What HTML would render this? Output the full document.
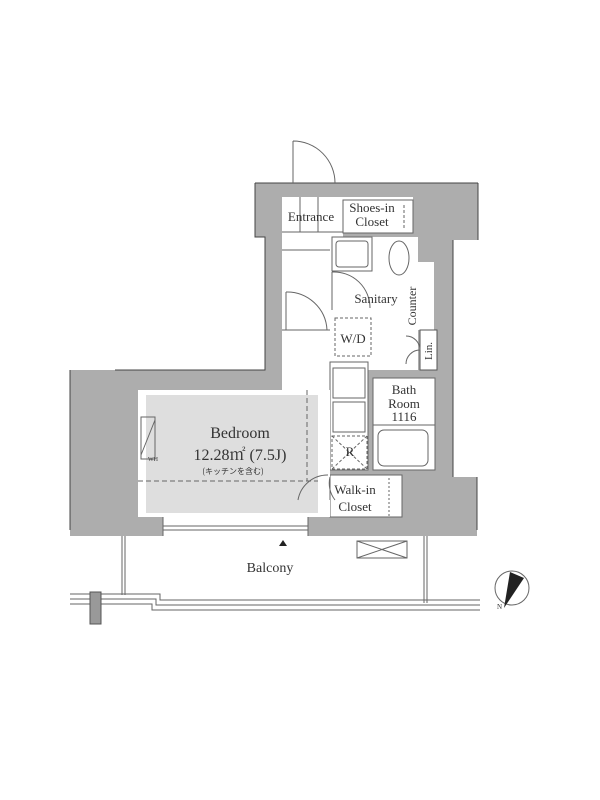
<!DOCTYPE html>
<html><head><meta charset="utf-8"><style>
html,body{margin:0;padding:0;background:#fff;width:600px;height:800px;overflow:hidden}
text{font-family:"Liberation Serif","Noto Serif CJK SC",serif;fill:#333}
</style></head><body>
<svg width="600" height="800" viewBox="0 0 600 800" xmlns="http://www.w3.org/2000/svg">
<!-- walls -->
<path d="M255,183 L478,183 L478,240 L453,240 L453,477 L477,477 L477,536 L70,536 L70,370 L265,370 L265,237 L255,237 Z" fill="#adadad"/>
<path d="M255,183 L478,183 M478,183 L478,240 M453,240 L453,477 M477,477 L477,530 M70,370 L70,530 M115,370 L265,370 L265,237 L255,237 L255,183" fill="none" stroke="#444" stroke-width="1"/>
<!-- rooms white -->
<rect x="282" y="197" width="61" height="193" fill="#fff"/>
<rect x="282" y="235" width="48" height="280" fill="#fff"/>
<rect x="343" y="197" width="70" height="36" fill="#fff"/>
<rect x="332" y="237" width="86" height="133" fill="#fff"/>
<rect x="418" y="262" width="16" height="68" fill="#fff"/>
<rect x="420" y="330" width="17" height="40" fill="#fff" stroke="#555"/>
<rect x="330" y="362" width="38" height="108" fill="#fff" stroke="#666"/>
<rect x="373" y="378" width="62" height="92" fill="#fff" stroke="#666"/>
<rect x="330" y="475" width="72" height="42" fill="#fff" stroke="#666"/>
<rect x="138" y="390" width="192" height="127" fill="#fff"/>
<rect x="163" y="517" width="145" height="20" fill="#fff"/>
<rect x="146" y="395" width="172" height="118" fill="#dedede"/>
<!-- room lines -->
<g fill="none" stroke="#666" stroke-width="1">
<rect x="343" y="200" width="70" height="33"/>
<line x1="404" y1="205" x2="404" y2="228" stroke-dasharray="3,2"/>
<line x1="282" y1="232" x2="343" y2="232"/><line x1="282" y1="250" x2="330" y2="250"/>
<line x1="300" y1="197" x2="300" y2="232"/><line x1="318" y1="197" x2="318" y2="232"/>
<line x1="282" y1="330" x2="330" y2="330"/>
<rect x="332" y="237" width="40" height="34"/><rect x="336" y="241" width="32" height="26" rx="3"/>
<ellipse cx="399" cy="258" rx="10" ry="17"/>
<path d="M332,272 A36,36 0 0 1 370,308"/><line x1="332" y1="272" x2="332" y2="310"/>
<rect x="335" y="318" width="36" height="38" stroke-dasharray="3,2"/>
<path d="M286,292 L286,330 M286,292 A40,40 0 0 1 327,330"/>
<path d="M335,500 A27,27 0 0 1 330,477 L330,500"/>
<path d="M298,500 A30,30 0 0 1 328,475"/>
<path d="M293,141 L293,183 M293,141 A42,42 0 0 1 335,183"/>
<path d="M420,350 A14,14 0 0 0 406,336 M420,350 A14,14 0 0 0 406,364"/>
<rect x="333" y="368" width="32" height="30"/><rect x="333" y="402" width="32" height="30"/>
<rect x="332" y="436" width="35" height="33" stroke-dasharray="3,2"/>
<line x1="332" y1="436" x2="367" y2="469" stroke-dasharray="3,2"/><line x1="367" y1="436" x2="332" y2="469" stroke-dasharray="3,2"/>
<line x1="373" y1="425" x2="435" y2="425"/>
<rect x="378" y="430" width="50" height="36" rx="6"/>
<line x1="389" y1="478" x2="389" y2="517" stroke-dasharray="2,2"/>
<rect x="141" y="417" width="14" height="42"/><line x1="141" y1="455" x2="155" y2="420"/>
<line x1="138" y1="481" x2="318" y2="481" stroke-dasharray="5,3"/>
<line x1="307" y1="390" x2="307" y2="481" stroke-dasharray="5,3"/>
<line x1="163" y1="526" x2="308" y2="526"/><line x1="163" y1="530" x2="308" y2="530"/>
<line x1="163" y1="517" x2="163" y2="536"/><line x1="308" y1="517" x2="308" y2="536"/>
<rect x="357" y="541" width="50" height="17"/><line x1="357" y1="541" x2="407" y2="558"/><line x1="407" y1="541" x2="357" y2="558"/>
<line x1="122" y1="536" x2="122" y2="595"/><line x1="125" y1="536" x2="125" y2="595"/>
<line x1="424" y1="536" x2="424" y2="603"/><line x1="427" y1="536" x2="427" y2="603"/>
<path d="M70,594 L160,594 L160,600 L480,600 M70,599 L156,599 L156,605 L480,605 M70,604 L152,604 L152,610 L480,610"/>
<circle cx="512" cy="588" r="17"/>
</g>
<rect x="90" y="592" width="11" height="32" fill="#999" stroke="#555"/>
<polygon points="283,540 279,546 287,546" fill="#222"/>
<polygon points="504,608 510,572 524,578" fill="#222"/>
<!-- labels -->
<text x="311" y="221" font-size="13" text-anchor="middle">Entrance</text>
<text x="372" y="212" font-size="13" text-anchor="middle">Shoes-in</text>
<text x="372" y="226" font-size="13" text-anchor="middle">Closet</text>
<text x="376" y="303" font-size="13" text-anchor="middle">Sanitary</text>
<text x="353" y="343" font-size="13" text-anchor="middle">W/D</text>
<text x="416" y="306" font-size="12" text-anchor="middle" transform="rotate(-90 416 306)">Counter</text>
<text x="432" y="351" font-size="11" text-anchor="middle" transform="rotate(-90 432 351)">Lin.</text>
<text x="404" y="394" font-size="13" text-anchor="middle">Bath</text>
<text x="404" y="408" font-size="13" text-anchor="middle">Room</text>
<text x="404" y="421" font-size="13" text-anchor="middle">1116</text>
<text x="350" y="456" font-size="13" text-anchor="middle">R</text>
<text x="355" y="494" font-size="13" text-anchor="middle">Walk-in</text>
<text x="355" y="511" font-size="13" text-anchor="middle">Closet</text>
<text x="240" y="438" font-size="16" text-anchor="middle">Bedroom</text>
<text x="240" y="460" font-size="16" text-anchor="middle">12.28㎡ (7.5J)</text>
<text x="233" y="474" font-size="8" text-anchor="middle" style="font-family:'Noto Sans CJK JP',sans-serif">(キッチンを含む)</text>
<text x="148" y="461" font-size="6">WH</text>
<text x="270" y="572" font-size="14" text-anchor="middle">Balcony</text>
<text x="497" y="609" font-size="7">N</text>
</svg>
</body></html>
